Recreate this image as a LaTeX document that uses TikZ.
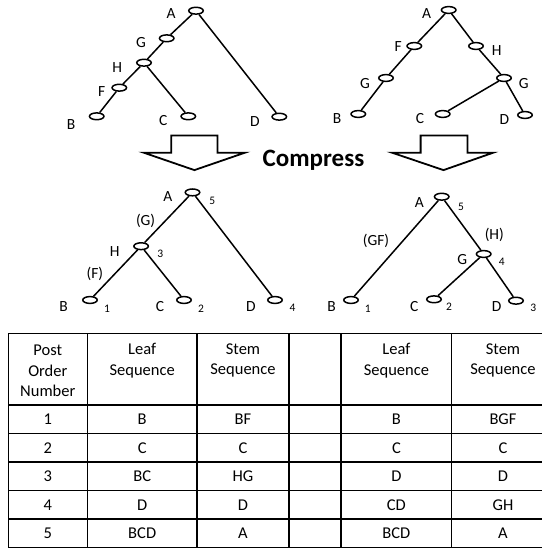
\documentclass[tikz,border=0pt]{standalone}
\usepackage{fontspec}
\setmainfont{Carlito}
\usetikzlibrary{shapes.geometric}
\begin{document}
\begin{tikzpicture}[x=1pt,y=-1pt,
  nd/.style={draw, ellipse, line width=1.5pt, minimum width=14.5pt, minimum height=6.8pt, inner sep=0pt},
  lbl/.style={inner sep=0pt, font=\fontsize{15.5}{18}\selectfont},
  num/.style={inner sep=0pt, font=\fontsize{11.5}{13}\selectfont},
  br/.style={line width=1.5pt},
  gridline/.style={line width=1.5pt},
  cell/.style={inner sep=0pt, align=center, font=\fontsize{16.5}{20.5}\selectfont},
  bigarrow/.style={draw, line width=1.8pt, line join=miter}]
\useasboundingbox (0,0) rectangle (542,549);

% ---------- top left tree ----------
\node[nd] (tlA) at (196,10.7) {};
\node[nd] (tlG) at (166.7,38.3) {};
\node[nd] (tlH) at (144,62.7) {};
\node[nd] (tlF) at (119.3,87.7) {};
\node[nd] (tlB) at (96.7,116.3) {};
\node[nd] (tlC) at (188.3,116.3) {};
\node[nd] (tlD) at (279.3,116.7) {};
\node[lbl] (tlAl) at (171,14) {A};
\node[lbl] (tlGl) at (141,43) {G};
\node[lbl] (tlHl) at (117.3,67.3) {H};
\node[lbl] (tlFl) at (101.7,91.7) {F};
\node[lbl] (tlBl) at (71,125) {B};
\node[lbl] (tlCl) at (163.3,120.7) {C};
\node[lbl] (tlDl) at (255,121.7) {D};
\draw[br] (tlA) -- (tlG);
\draw[br] (tlG) -- (tlH);
\draw[br] (tlH) -- (tlF);
\draw[br] (tlF) -- (tlB);
\draw[br] (tlH) -- (tlC);
\draw[br] (tlA) -- (tlD);

% ---------- top right tree ----------
\node[nd] (trA) at (448.7,10) {};
\node[nd] (trF) at (414.3,46) {};
\node[nd] (trH) at (476,46) {};
\node[nd] (trGa) at (386,78) {};
\node[nd] (trGb) at (504,78) {};
\node[nd] (trB) at (358.3,114) {};
\node[nd] (trC) at (442.7,114) {};
\node[nd] (trD) at (525,115) {};
\node[lbl] (trAl) at (426.7,14) {A};
\node[lbl] (trFl) at (398.3,47) {F};
\node[lbl] (trHl) at (496.7,51) {H};
\node[lbl] (trGal) at (365,84) {G};
\node[lbl] (trGbl) at (523.7,84) {G};
\node[lbl] (trBl) at (337,119) {B};
\node[lbl] (trCl) at (420,119) {C};
\node[lbl] (trDl) at (504.3,120) {D};
\draw[br] (trA) -- (trF);
\draw[br] (trF) -- (trGa);
\draw[br] (trGa) -- (trB);
\draw[br] (trA) -- (trH);
\draw[br] (trH) -- (trGb);
\draw[br] (trGb) -- (trC);
\draw[br] (trGb) -- (trD);

% ---------- compress arrows ----------
\draw[bigarrow] (171.2,135.5) -- (217.5,135.5) -- (217.5,152.7) -- (244.9,152.7)
  -- (194.4,170.1) -- (143.8,152.7) -- (171.2,152.7) -- cycle;
\draw[bigarrow] (420.6,135.5) -- (467.5,135.5) -- (467.5,152.7) -- (493.2,152.7)
  -- (443.5,170.1) -- (392.1,152.7) -- (420.6,152.7) -- cycle;
\node[inner sep=0pt, font=\fontsize{25}{28}\selectfont\bfseries] (compress) at (313.5,160.5) {Compress};

% ---------- middle left tree ----------
\node[nd] (mlA) at (192.5,192.4) {};
\node[nd] (mlH) at (141.1,246.2) {};
\node[nd] (mlB) at (90,300) {};
\node[nd] (mlC) at (184,300) {};
\node[nd] (mlD) at (275,300) {};
\node[lbl] (mlAl) at (167.8,196.5) {A};
\node[num] (mlA5) at (212.3,201) {5};
\node[lbl] (mlGl) at (145.6,221.2) {(G)};
\node[lbl] (mlHl) at (114.7,252) {H};
\node[num] (mlH3) at (160.3,254) {3};
\node[lbl] (mlFl) at (94.9,273.5) {(F)};
\node[lbl] (mlBl) at (63.5,306.5) {B};
\node[num] (mlB1) at (107,308.3) {1};
\node[lbl] (mlCl) at (160,306.5) {C};
\node[num] (mlC2) at (201,308.3) {2};
\node[lbl] (mlDl) at (251,306.5) {D};
\node[num] (mlD4) at (292.5,308.3) {4};
\draw[br] (mlA) -- (mlH);
\draw[br] (mlH) -- (mlB);
\draw[br] (mlH) -- (mlC);
\draw[br] (mlA) -- (mlD);

% ---------- middle right tree ----------
\node[nd] (mrA) at (441.7,196.7) {};
\node[nd] (mrG) at (483.7,254) {};
\node[nd] (mrB) at (351,300) {};
\node[nd] (mrC) at (434,299.3) {};
\node[nd] (mrD) at (516,300.7) {};
\node[lbl] (mrAl) at (419.3,202.7) {A};
\node[num] (mrA5) at (461,206.7) {5};
\node[lbl] (mrGFl) at (376,241) {(GF)};
\node[lbl] (mrHl) at (494.3,235) {(H)};
\node[lbl] (mrGl) at (462.3,260) {G};
\node[num] (mrG4) at (501.7,261.7) {4};
\node[lbl] (mrBl) at (331.7,306.7) {B};
\node[num] (mrB1) at (367.7,308.3) {1};
\node[lbl] (mrCl) at (414.3,306.5) {C};
\node[num] (mrC2) at (449,306.7) {2};
\node[lbl] (mrDl) at (496.7,306.7) {D};
\node[num] (mrD3) at (533.3,308.3) {3};
\draw[br] (mrA) -- (mrB);
\draw[br] (mrA) -- (mrG);
\draw[br] (mrG) -- (mrC);
\draw[br] (mrG) -- (mrD);

% ---------- table ----------
\foreach \yy in {333.5,405,433.5,462,490.5,519,547.5}
  \draw[gridline] (8.3,\yy) -- (542,\yy);
\foreach \xx in {8.3,87.3,197,289,341,451.7}
  \draw[gridline] (\xx,333.5) -- (\xx,547.5);

\node[cell] (h1) at (47.8,371) {Post\\Order\\Number};
\node[cell] (h2) at (142.2,360.5) {Leaf\\Sequence};
\node[cell] (h3) at (243,360.5) {Stem\\Sequence};
\node[cell] (h5) at (396.4,360.5) {Leaf\\Sequence};
\node[cell] (h6) at (503,360.5) {Stem\\Sequence};

\foreach \n/\la/\sa/\lb/\sb [count=\i] in {1/B/BF/B/BGF, 2/C/C/C/C, 3/BC/HG/D/D, 4/D/D/CD/GH, 5/BCD/A/BCD/A} {
  \pgfmathsetmacro{\ry}{419.3+(\i-1)*28.5}
  \node[cell] (r\i c1) at (47.8,\ry) {\n};
  \node[cell] (r\i c2) at (142.2,\ry) {\la};
  \node[cell] (r\i c3) at (243,\ry) {\sa};
  \node[cell] (r\i c5) at (396.4,\ry) {\lb};
  \node[cell] (r\i c6) at (503,\ry) {\sb};
}
\end{tikzpicture}
\end{document}
